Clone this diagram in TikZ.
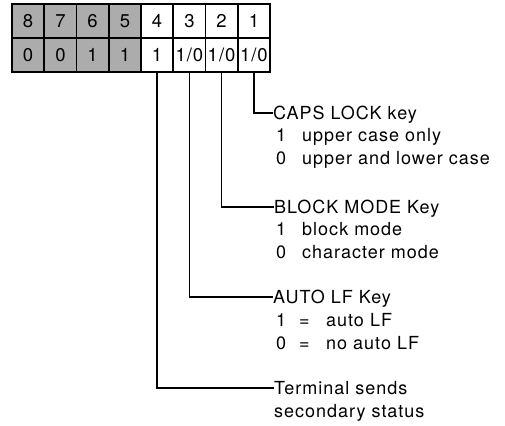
\documentclass[tikz,border=0pt]{standalone}
\usepackage{fontspec}
\setmainfont{TeX Gyre Heros}[LetterSpace=5.5]
\begin{document}
\begin{tikzpicture}[x=1pt,y=-1pt,
  cell/.style={draw, line width=1.8pt, minimum width=32.25pt, minimum height=34pt,
    inner sep=0pt, anchor=center, font=\fontsize{18.5}{18.5}\selectfont},
  shaded/.style={cell, fill=gray!65},
  conn/.style={line width=1.3pt},
  lbl/.style={anchor=west, inner sep=0pt, text height=12.8pt, text depth=0pt,
    font=\fontsize{18}{20}\selectfont}]
\useasboundingbox (0,0) rectangle (505,425);
% top row
\node[shaded] (t8) at (28.1,21) {8};
\node[shaded] (t7) at (60.4,21) {7};
\node[shaded] (t6) at (92.6,21) {6};
\node[shaded] (t5) at (124.9,21) {5};
\node[cell] (t4) at (157.1,21) {4};
\node[cell] (t3) at (189.4,21) {3};
\node[cell] (t2) at (221.6,21) {2};
\node[cell] (t1) at (253.9,21) {1};
% bottom row
\node[shaded] (b8) at (28.1,55) {0};
\node[shaded] (b7) at (60.4,55) {0};
\node[shaded] (b6) at (92.6,55) {1};
\node[shaded] (b5) at (124.9,55) {1};
\node[cell] (b4) at (157.1,55) {1};
\node[cell] (b3) at (189.4,55) {1/0};
\node[cell] (b2) at (221.6,55) {1/0};
\node[cell] (b1) at (253.9,55) {1/0};
% labels
\node[lbl] (caps) at (273,113) {CAPS LOCK key};
\node[lbl] (caps1n) at (276,135.5) {1};
\node[lbl] (caps1) at (302,135.5) {upper case only};
\node[lbl] (caps0n) at (276,158) {0};
\node[lbl] (caps0) at (302,158) {upper and lower case};
\node[lbl] (blk) at (274,207) {BLOCK MODE Key};
\node[lbl] (blk1n) at (276,229.5) {1};
\node[lbl] (blk1) at (302,229.5) {block mode};
\node[lbl] (blk0n) at (276,252) {0};
\node[lbl] (blk0) at (302,252) {character mode};
\node[lbl] (alf) at (273,297) {AUTO LF Key};
\node[lbl] (alf1n) at (276,320) {1};
\node[lbl] (alf1e) at (299,320) {=};
\node[lbl] (alf1) at (326,320) {auto LF};
\node[lbl] (alf0n) at (276,343) {0};
\node[lbl] (alf0e) at (299,343) {=};
\node[lbl] (alf0) at (326,343) {no auto LF};
\node[lbl] (term) at (274,388) {Terminal sends};
\node[lbl] (term2) at (274,411) {secondary status};
% connectors
\draw[conn] (b1.south) |- (caps.west);
\draw[conn] (b2.south) |- (blk.west);
\draw[conn] (b3.south) |- (alf.west);
\draw[conn] (b4.south) |- (term.west);
\end{tikzpicture}
\end{document}
